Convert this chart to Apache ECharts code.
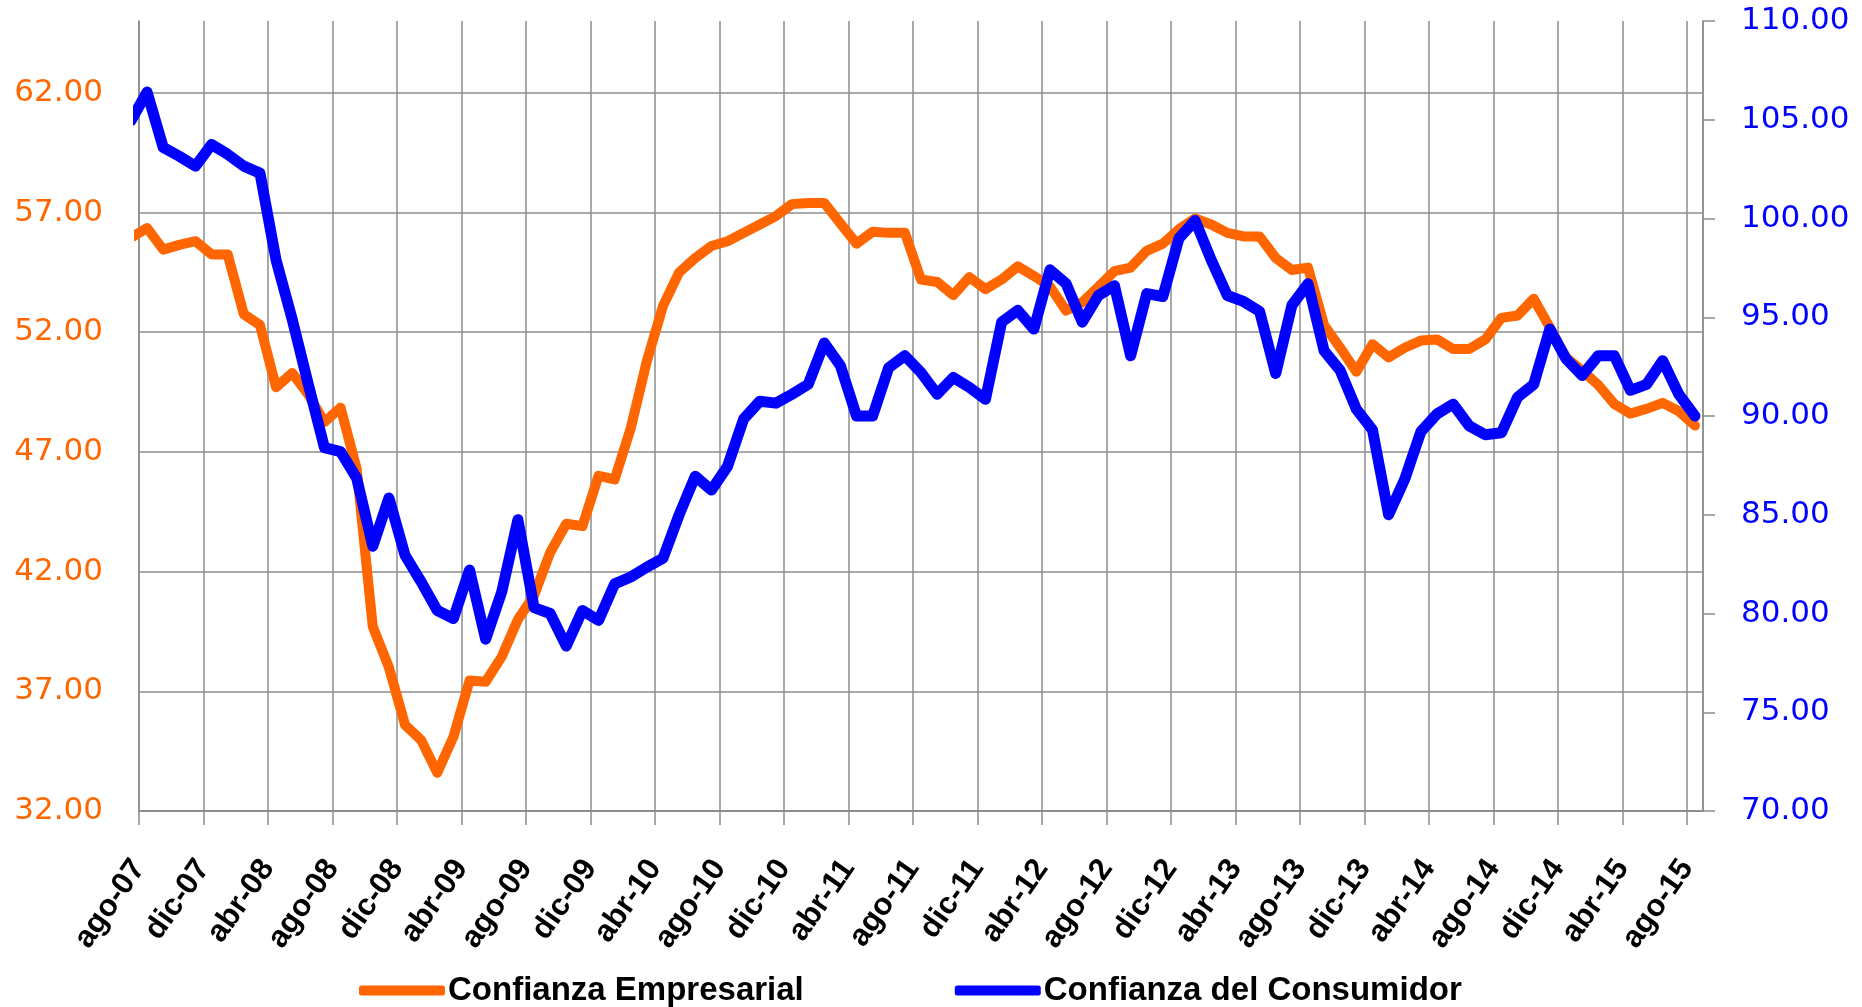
<!DOCTYPE html>
<html>
<head>
<meta charset="utf-8">
<script src="https://cdn.jsdelivr.net/npm/echarts@6/dist/echarts.min.js"></script>
<style>
html,body{margin:0;padding:0;background:#fff;}
#chart{width:1862px;height:1007px;}
</style>
</head>
<body>
<div id="chart"></div>
<script>
// Months from jul-07 (partly clipped at the axis start) to ago-15
const monthNames = ['ene','feb','mar','abr','may','jun','jul','ago','sep','oct','nov','dic'];
const months = [];
for (let y = 2007, m = 6; months.length < 98; ) {
  months.push(monthNames[m] + '-' + String(y % 100).padStart(2, '0'));
  m++; if (m === 12) { m = 0; y++; }
}

const tickLabels = ['ago-07','dic-07','abr-08','ago-08','dic-08','abr-09','ago-09','dic-09',
  'abr-10','ago-10','dic-10','abr-11','ago-11','dic-11','abr-12','ago-12','dic-12',
  'abr-13','ago-13','dic-13','abr-14','ago-14','dic-14','abr-15','ago-15'];

const leftTicks = [32, 37, 42, 47, 52, 57, 62];
const rightTicks = [70, 75, 80, 85, 90, 95, 100, 105, 110];

const empresarial = [55.95,
  56.35, 55.45, 55.65, 55.8, 55.25, 55.25, 52.75, 52.3, 49.7, 50.3,
  49.4, 48.25, 48.85, 46.3, 39.7, 38.0, 35.6, 34.96, 33.6, 35.1,
  37.45, 37.4, 38.45, 40.0, 41.0, 42.8, 44.0, 43.9, 46.0, 45.85,
  48.0, 50.8, 53.1, 54.5, 55.1, 55.6, 55.8, 56.15, 56.5, 56.85,
  57.35, 57.4, 57.4, 56.55, 55.7, 56.2, 56.15, 56.15, 54.2, 54.1,
  53.55, 54.3, 53.8, 54.2, 54.75, 54.35, 53.9, 52.9, 53.25, 53.9,
  54.55, 54.7, 55.4, 55.7, 56.3, 56.75, 56.5, 56.15, 56.0, 56.0,
  55.1, 54.6, 54.7, 52.3, 51.35, 50.35, 51.5, 50.95, 51.35, 51.65,
  51.7, 51.3, 51.3, 51.7, 52.6, 52.7, 53.4, 52.2, 50.95, 50.4,
  49.8, 49.0, 48.6, 48.8, 49.05, 48.7, 48.1];

const consumidor = [104.95,
  106.4, 103.6, 103.15, 102.65, 103.75, 103.25, 102.65, 102.3, 97.9, 94.9,
  91.6, 88.4, 88.2, 86.85, 83.4, 85.85, 82.95, 81.6, 80.15, 79.75,
  82.2, 78.7, 81.1, 84.75, 80.3, 80.0, 78.35, 80.15, 79.65, 81.5,
  81.85, 82.35, 82.8, 85.0, 86.95, 86.25, 87.45, 89.85, 90.75, 90.65,
  91.1, 91.6, 93.7, 92.55, 90.0, 90.0, 92.45, 93.05, 92.2, 91.1,
  91.95, 91.45, 90.85, 94.75, 95.35, 94.4, 97.4, 96.7, 94.75, 96.1,
  96.6, 93.05, 96.2, 96.05, 99.0, 99.9, 97.9, 96.1, 95.8, 95.3,
  92.15, 95.6, 96.7, 93.3, 92.3, 90.35, 89.3, 85.0, 86.8, 89.2,
  90.1, 90.6, 89.5, 89.05, 89.15, 90.95, 91.6, 94.4, 92.9, 92.05,
  93.05, 93.05, 91.3, 91.6, 92.8, 91.1, 90.0];

const seriesNames = ['Confianza Empresarial', 'Confianza del Consumidor'];
const colors = ['#FF6600', '#0000FF'];

// each month is drawn at the middle of its band; month index 1 (ago-07) spans [0,1]
const toPoints = arr => arr.map((v, i) => [i - 0.5, v]);

const gridColor = '#8c8c8c';
const chart = echarts.init(document.getElementById('chart'), null, {renderer: 'canvas'});
chart.setOption({
  animation: false,
  backgroundColor: '#ffffff',
  textStyle: {fontFamily: 'DejaVu Sans'},
  grid: {left: 139, right: 159, top: 21, bottom: 196, containLabel: false},
  legend: {
    data: seriesNames,
    left: 354, top: 969,
    icon: 'roundRect', itemWidth: 86, itemHeight: 10, itemGap: 151,
    textStyle: {fontFamily: 'Liberation Sans', fontWeight: 'bold', fontSize: 33, color: '#000', padding: [0,0,0,-2]}
  },
  xAxis: {
    type: 'value', min: 0, max: months.length - 1, interval: 4,
    axisLine: {show: true, lineStyle: {color: gridColor, width: 2}},
    axisTick: {show: true, inside: false, length: 14, lineStyle: {color: gridColor, width: 1.5}},
    splitLine: {show: true, lineStyle: {color: gridColor, width: 1.5}},
    axisLabel: {
      rotate: 55, margin: 52, showMaxLabel: false,
      fontFamily: 'Liberation Sans', fontWeight: 'bold', fontSize: 31, color: '#000',
      formatter: v => (v % 4 === 0 && tickLabels[v / 4]) ? tickLabels[v / 4] : ''
    }
  },
  yAxis: [{
    type: 'value', position: 'left', min: leftTicks[0], max: 65, interval: 5,
    axisLine: {show: true, lineStyle: {color: gridColor, width: 1.5}},
    axisTick: {show: false},
    splitLine: {show: true, showMaxLine: false, lineStyle: {color: gridColor, width: 1.5}},
    axisLabel: {showMaxLabel: false, margin: 36, fontSize: 31, color: colors[0],
      formatter: v => v.toFixed(2)}
  }, {
    type: 'value', position: 'right', min: rightTicks[0], max: rightTicks[rightTicks.length - 1], interval: 5,
    axisLine: {show: true, lineStyle: {color: gridColor, width: 1.5}},
    axisTick: {show: true, inside: false, length: 12, lineStyle: {color: gridColor, width: 1.5}},
    splitLine: {show: false},
    axisLabel: {margin: 38, fontSize: 31, color: colors[1], formatter: v => v.toFixed(2)}
  }],
  series: [{
    name: seriesNames[0], type: 'line', yAxisIndex: 0,
    data: toPoints(empresarial), showSymbol: false, symbol: 'none', clip: true,
    itemStyle: {color: colors[0]},
    lineStyle: {color: colors[0], width: 10, join: 'round', cap: 'round'}
  }, {
    name: seriesNames[1], type: 'line', yAxisIndex: 1,
    data: toPoints(consumidor), showSymbol: false, symbol: 'none', clip: true,
    itemStyle: {color: colors[1]},
    lineStyle: {color: colors[1], width: 11, join: 'round', cap: 'round'}
  }]
});
</script>
</body>
</html>
